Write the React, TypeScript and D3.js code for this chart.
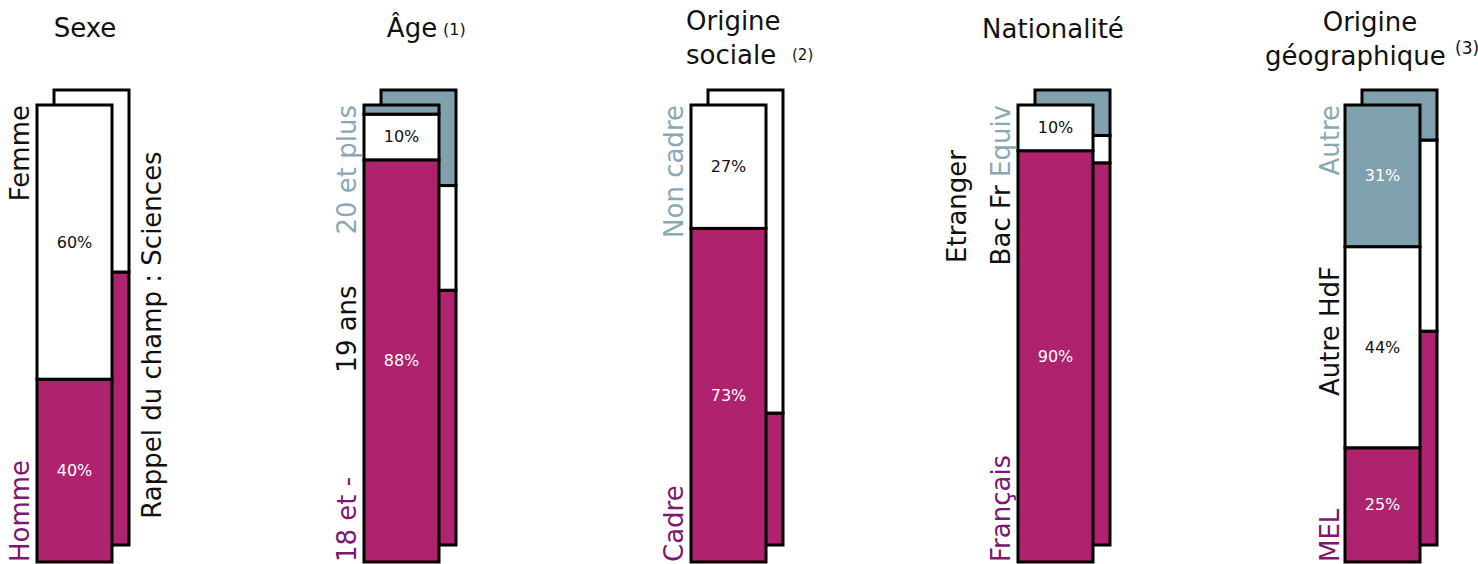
import React from "react";
import * as d3 from "d3";

// ---- data ----
const categories = ["Sexe", "Âge", "Origine sociale", "Nationalité", "Origine géographique"];
const segmentKinds = ["magenta", "white", "grey"]; // bottom -> top
// Population (front bars), percentages bottom -> top
const frontValues = [
  [40, 60, 0],
  [88, 10, 2],
  [73, 27, 0],
  [90, 10, 0],
  [25, 44, 31],
];
// Rappel du champ : Sciences (back bars)
const backValues = [
  [60, 40, 0],
  [56, 23, 21],
  [29, 71, 0],
  [84, 6, 10],
  [47, 42, 11],
];
// which front segment values get a percentage label
const showLabel = [
  [true, true, false],
  [true, true, false],
  [true, true, false],
  [true, true, false],
  [true, true, true],
];
const backLabel = "Rappel du champ : Sciences";

// ---- styles ----
const FILL: Record<string, string> = { magenta: "#AE226E", white: "#FFFFFF", grey: "#7FA0AC" };
const TEXT_ON: Record<string, string> = { magenta: "#FFFFFF", white: "#111111", grey: "#FFFFFF" };
const LBL_MAG = "#7D1770";
const LBL_GREY = "#8AA8B4";
const FONT = "'DejaVu Sans', Verdana, sans-serif";

const W = 1478;
const H = 564;
const BAR_W = 75;
const DX = 17;

export default function App() {
  const x = d3.scaleLinear().domain([0, categories.length - 1]).range([37, 1345]);
  const yFront = d3.scaleLinear().domain([0, 100]).range([562, 105]);
  const yBack = d3.scaleLinear().domain([0, 100]).range([545, 90]);

  const stackSeg = (vals: number[]) => {
    const out: { kind: string; v: number; y0: number; y1: number; i: number }[] = [];
    let acc = 0;
    vals.forEach((v, i) => {
      if (v > 0) out.push({ kind: segmentKinds[i], v, y0: acc, y1: acc + v, i });
      acc += v;
    });
    return out;
  };

  const rot = (tx: number, ty: number) => `translate(${tx},${ty}) rotate(-90)`;

  return (
    <svg width={W} height={H} style={{ position: "absolute", left: 0, top: 0, background: "#fff" }} fontFamily={FONT}>
      {categories.map((c, ci) => {
        const fx = x(ci);
        const bx = fx + DX;
        const back = stackSeg(backValues[ci]);
        const front = stackSeg(frontValues[ci]);
        return (
          <g key={c}>
            {back.map((s) => (
              <rect key={"b" + s.i} x={bx} width={BAR_W} y={yBack(s.y1)} height={yBack(s.y0) - yBack(s.y1)}
                fill={FILL[s.kind]} stroke="#000" strokeWidth={3} />
            ))}
            {front.map((s) => (
              <rect key={"f" + s.i} x={fx} width={BAR_W} y={yFront(s.y1)} height={yFront(s.y0) - yFront(s.y1)}
                fill={FILL[s.kind]} stroke="#000" strokeWidth={3} />
            ))}
            {front.filter((s) => showLabel[ci][s.i]).map((s) => (
              <text key={"t" + s.i} x={fx + BAR_W / 2} y={(yFront(s.y0) + yFront(s.y1)) / 2}
                textAnchor="middle" dominantBaseline="central" fontSize={16} fill={TEXT_ON[s.kind]}>
                {d3.format("d")(s.v)}%
              </text>
            ))}
          </g>
        );
      })}

      {/* titles */}
      <g fontSize={26} fill="#111">
        <text x={85} y={37} textAnchor="middle">{categories[0]}</text>
        <text x={412} y={37} textAnchor="middle">{categories[1]}</text>
        <text x={443} y={35} fontSize={16}>(1)</text>
        <text x={686} y={30}>Origine</text>
        <text x={686} y={64}>sociale</text>
        <text x={792} y={60} fontSize={15}>(2)</text>
        <text x={1053} y={38} textAnchor="middle">{categories[3]}</text>
        <text x={1370} y={31} textAnchor="middle">Origine</text>
        <text x={1265} y={65}>géographique</text>
        <text x={1455} y={54} fontSize={17}>(3)</text>
      </g>

      {/* rotated category labels */}
      <g fontSize={26}>
        <text transform={rot(x(0) - 8, 105)} textAnchor="end" fill="#111">Femme</text>
        <text transform={rot(x(0) - 8, 562)} textAnchor="start" fill={LBL_MAG}>Homme</text>
        <text transform={rot(x(0) + DX + BAR_W + 32, 335)} textAnchor="middle" fill="#111">{backLabel}</text>

        <text transform={rot(x(1) - 8, 105)} textAnchor="end" fill={LBL_GREY}>20 et plus</text>
        <text transform={rot(x(1) - 8, 329)} textAnchor="middle" fill="#111">19 ans</text>
        <text transform={rot(x(1) - 8, 562)} textAnchor="start" fill={LBL_MAG}>18 et -</text>

        <text transform={rot(x(2) - 8, 105)} textAnchor="end" fill={LBL_GREY}>Non cadre</text>
        <text transform={rot(x(2) - 8, 562)} textAnchor="start" fill={LBL_MAG}>Cadre</text>

        <text transform={rot(x(3) - 52, 150)} textAnchor="end" fill="#111">Etranger</text>
        <text transform={rot(x(3) - 8, 105)} textAnchor="end" fill="#111">
          Bac Fr <tspan fill={LBL_GREY}>Equiv</tspan>
        </text>
        <text transform={rot(x(3) - 8, 562)} textAnchor="start" fill={LBL_MAG}>Français</text>

        <text transform={rot(x(4) - 6, 105)} textAnchor="end" fill={LBL_GREY}>Autre</text>
        <text transform={rot(x(4) - 6, 331)} textAnchor="middle" fill="#111">Autre HdF</text>
        <text transform={rot(x(4) - 6, 562)} textAnchor="start" fill={LBL_MAG}>MEL</text>
      </g>
    </svg>
  );
}
